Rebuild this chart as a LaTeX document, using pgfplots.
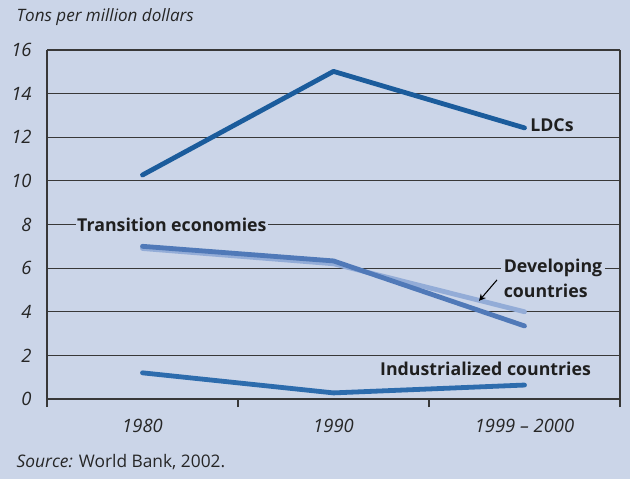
\documentclass[border=0pt]{standalone}
\usepackage{fontspec}
\setmainfont{Open Sans}
\usepackage{pgfplots}
\pgfplotsset{compat=1.18}
\usetikzlibrary{backgrounds,arrows.meta}
\definecolor{bg}{HTML}{CBD5E8}
\definecolor{ldc}{HTML}{1B5C9C}
\definecolor{trans}{HTML}{5079B8}
\definecolor{devel}{HTML}{93ACD7}
\definecolor{indus}{HTML}{2D6CAD}
\definecolor{gridc}{HTML}{383838}

\begin{document}
\begin{tikzpicture}[font=\fontsize{13}{15}\selectfont]
\begin{axis}[
    scale only axis,
    width=429.75pt, height=261.75pt,
    xmin=0.5, xmax=3.5, ymin=0, ymax=16,
    xtick={0.5,1.5,2.5,3.5}, xticklabels={},
    x tick style={gridc, line width=0.9pt},
    major tick length=6pt,
    tick align=outside,
    extra x ticks={1,2,3},
    extra x tick labels={1980,1990,1999 -- 2000},
    extra x tick style={tick style={draw=none}, xticklabel style={yshift=-5.5pt}},
    ytick={0,2,...,16},
    ymajorgrids,
    major grid style={gridc, line width=0.9pt},
    y tick style={draw=none},
    yticklabel style={xshift=-2pt},
    tick label style={font=\fontsize{13.8}{15}\selectfont\itshape, text=black!85},
    /pgf/number format/assume math mode=true,
    axis x line*=bottom,
    axis y line*=left,
    axis line style={gridc, line width=0.9pt, -},
    clip=false,
]
\draw[gridc, line width=0.9pt] (rel axis cs:1,0) -- (rel axis cs:1,1);

\addplot[devel, line width=3.6pt, line cap=round, line join=round] coordinates {(1,6.9) (2,6.2) (3,4.0)};
\addplot[trans, line width=3.6pt, line cap=round, line join=round] coordinates {(1,7.0) (2,6.33) (3,3.35)};
\addplot[ldc, line width=3.6pt, line cap=round, line join=round] coordinates {(1,10.27) (2,15.02) (3,12.43)};
\addplot[indus, line width=3.6pt, line cap=round, line join=round] coordinates {(1,1.2) (2,0.28) (3,0.64)};

\node[font=\fontsize{13.3}{15}\selectfont\bfseries, fill=bg, inner xsep=1pt, inner ysep=2pt, text=black!88] at (axis cs:1.154,8) {Transition economies};
\node[font=\fontsize{13.3}{15}\selectfont\bfseries, anchor=west, inner sep=0pt, text=black!88] at (axis cs:3.029,12.57) {LDCs};
\node[font=\fontsize{13.3}{15}\selectfont\bfseries, anchor=west, fill=bg, inner xsep=2pt, inner ysep=2pt, text=black!88] at (axis cs:2.876,6.0) {Developing};
\node[font=\fontsize{13.3}{15}\selectfont\bfseries, anchor=west, inner xsep=2pt, inner ysep=0pt, text=black!88] at (axis cs:2.876,4.95) {countries};
\node[font=\fontsize{13.3}{15}\selectfont\bfseries, anchor=west, inner sep=0pt, text=black!88] at (axis cs:2.243,1.38) {Industrialized countries};
\draw[-{Stealth[length=5pt,width=5pt]}, line width=0.8pt, black] (axis cs:2.856,5.46) -- (axis cs:2.762,4.5);
\end{axis}
\node[anchor=west, font=\fontsize{12.8}{15}\selectfont\itshape, text=black!85] at (-26.25pt,286.5pt) {Tons per million dollars};
\node[anchor=west, font=\fontsize{13}{15}\selectfont, text=black!85] at (-26.25pt,-47.25pt) {\textit{Source:} World Bank, 2002.};
\begin{scope}[on background layer]
\fill[bg] (-35.25pt,-60pt) rectangle (437.25pt,299.25pt);
\end{scope}
\end{tikzpicture}
\end{document}
